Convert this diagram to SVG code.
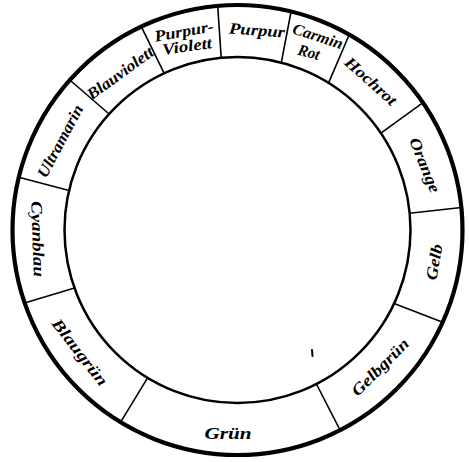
<svg xmlns="http://www.w3.org/2000/svg" width="469" height="462" viewBox="0 0 469 462">
<style>
.lbl{font-family:"Liberation Serif","DejaVu Serif",serif;font-style:italic;font-weight:bold;font-size:16px;fill:#000;text-anchor:middle;dominant-baseline:central}
.div{stroke:#000;stroke-width:1.6;fill:none}
</style>
<rect width="469" height="462" fill="#fff"/>
<g id="connectors">
<line class="div" x1="217.7" y1="5.9" x2="221.2" y2="57.8"/>
<line class="div" x1="291.1" y1="11.5" x2="281.3" y2="62.6"/>
<line class="div" x1="349.2" y1="34.7" x2="328.6" y2="82.9"/>
<line class="div" x1="423.0" y1="102.6" x2="380.9" y2="133.2"/>
<line class="div" x1="461.4" y1="207.5" x2="409.7" y2="213.2"/>
<line class="div" x1="442.7" y1="322.3" x2="394.1" y2="303.6"/>
<line class="div" x1="340.1" y1="430.2" x2="316.4" y2="384.0"/>
<line class="div" x1="120.6" y1="422.2" x2="147.6" y2="377.8"/>
<line class="div" x1="24.6" y1="302.9" x2="74.5" y2="288.1"/>
<line class="div" x1="18.8" y1="177.2" x2="69.1" y2="190.5"/>
<line class="div" x1="69.8" y1="80.0" x2="109.1" y2="114.0"/>
<line class="div" x1="141.3" y1="26.6" x2="164.2" y2="73.3"/>
</g>
<g id="ring">
<circle cx="237.5" cy="230" r="225" fill="none" stroke="#000" stroke-width="4.2"/>
<circle cx="237.5" cy="230" r="173" fill="none" stroke="#000" stroke-width="2.5"/>
</g>
<g id="purpur"><text class="lbl" transform="translate(257,30) rotate(4)" textLength="56" lengthAdjust="spacingAndGlyphs">Purpur</text></g>
<g id="carmin-rot"><text class="lbl" transform="translate(318,36) rotate(18)" textLength="52" lengthAdjust="spacingAndGlyphs">Carmin</text><text class="lbl" transform="translate(309,52) rotate(15)" textLength="22" lengthAdjust="spacingAndGlyphs">Rot</text></g>
<g id="hochrot"><text class="lbl" transform="translate(371,81) rotate(42)" textLength="64" lengthAdjust="spacingAndGlyphs">Hochrot</text></g>
<g id="orange"><text class="lbl" transform="translate(425,165) rotate(68)" textLength="58" lengthAdjust="spacingAndGlyphs">Orange</text></g>
<g id="gelb"><text class="lbl" transform="translate(434,262) rotate(-80)" textLength="36" lengthAdjust="spacingAndGlyphs">Gelb</text></g>
<g id="gelbgruen"><text class="lbl" transform="translate(380,367) rotate(-45)" textLength="74" lengthAdjust="spacingAndGlyphs">Gelbgrün</text></g>
<g id="gruen"><text class="lbl" transform="translate(228,433) rotate(0)" textLength="47" lengthAdjust="spacingAndGlyphs">Grün</text></g>
<g id="blaugruen"><text class="lbl" transform="translate(80,352) rotate(52)" textLength="80" lengthAdjust="spacingAndGlyphs">Blaugrün</text></g>
<g id="cyanblau"><text class="lbl" transform="translate(38,239) rotate(88)" textLength="76" lengthAdjust="spacingAndGlyphs">Cyanblau</text></g>
<g id="ultramarin"><text class="lbl" transform="translate(60,141) rotate(-62)" textLength="80" lengthAdjust="spacingAndGlyphs">Ultramarin</text></g>
<g id="blauviolett"><text class="lbl" transform="translate(120,73) rotate(-36)" textLength="78" lengthAdjust="spacingAndGlyphs">Blauviolett</text></g>
<g id="purpur-violett"><text class="lbl" transform="translate(184,31) rotate(-10)" textLength="60" lengthAdjust="spacingAndGlyphs">Purpur-</text><text class="lbl" transform="translate(187,46) rotate(-8)" textLength="50" lengthAdjust="spacingAndGlyphs">Violett</text></g>
<path d="M312 350 L312.5 356" stroke="#000" stroke-width="2" stroke-linecap="round"/>
</svg>
